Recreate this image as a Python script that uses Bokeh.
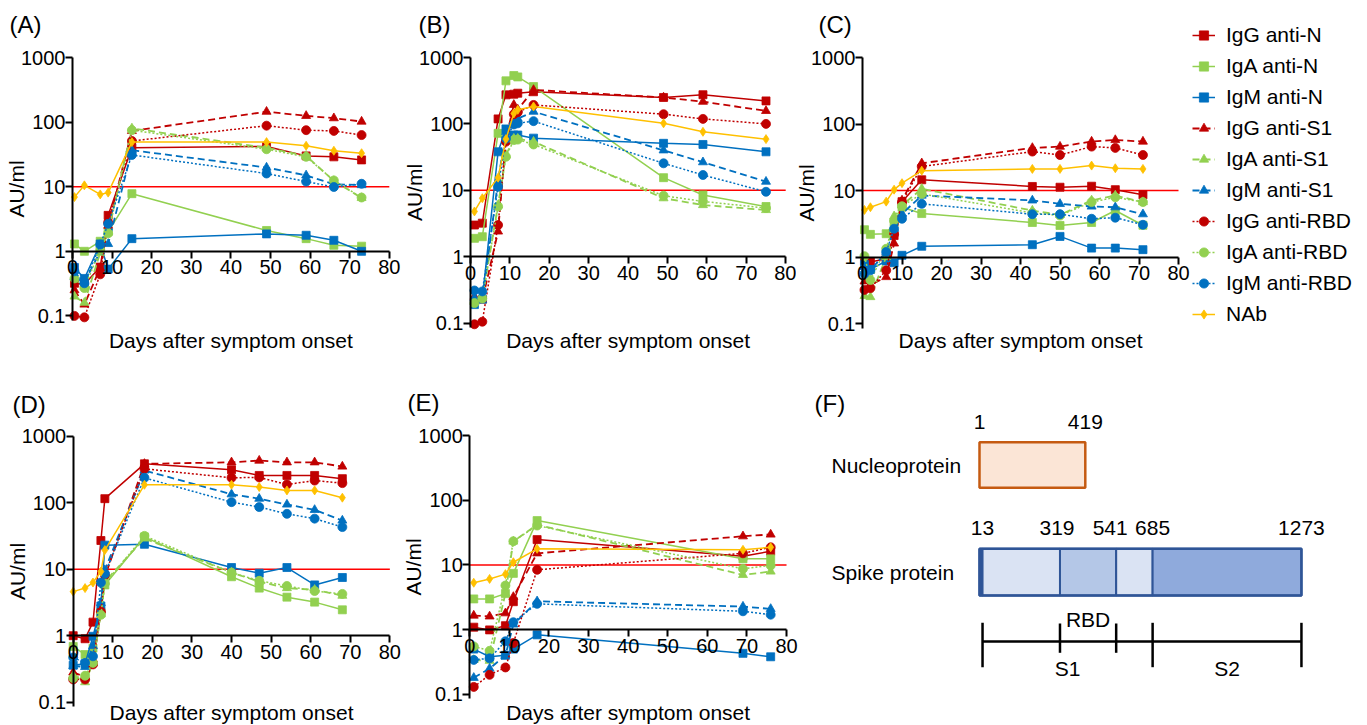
import math
from bokeh.plotting import figure
from bokeh.layouts import row, column
from bokeh.models import (Range1d, FixedTicker, CustomJSTickFormatter, Label,
                          Legend, LegendItem, ColumnDataSource)
from bokeh.core.properties import value
from bokeh.embed import file_html
from bokeh.resources import INLINE

FONT = "Liberation Sans"
RED, GREEN, BLUE, GOLD = "#c00000", "#92d050", "#0070c0", "#ffc000"

# ---------------- data ----------------
SERIES_NAMES = ["IgG anti-N", "IgA anti-N", "IgM anti-N",
                "IgG anti-S1", "IgA anti-S1", "IgM anti-S1",
                "IgG anti-RBD", "IgA anti-RBD", "IgM anti-RBD", "NAb"]
X_TICKS = [0, 10, 20, 30, 40, 50, 60, 70, 80]
Y_TICKS = [0.1, 1, 10, 100, 1000]
THRESHOLD = 10

A_DAYS = [0.5, 3, 7, 9, 15, 49, 59, 66, 73]
A_IGG_N = [0.32, 0.31, 0.57, 3.6, 40, 42, 30, 29, 26]
A_IGA_N = [1.3, 1.0, 1.43, 2.0, 7.8, 2.1, 1.57, 1.24, 1.2]
A_IGM_N = [0.56, 0.38, 1.3, 0.53, 1.57, 1.86, 1.77, 1.48, 1.0]
A_IGG_S1 = [0.25, 0.15, 0.55, 2.5, 73, 145, 125, 115, 102]
A_IGA_S1 = [0.2, 0.16, 0.95, 2.0, 80, 40, 30, 12.3, 6.7]
A_IGM_S1 = [0.4, 0.33, 1.0, 1.3, 36.7, 19.8, 15, 10.9, 10.6]
A_IGG_RBD = [0.1, 0.095, 0.44, 2.8, 51, 88, 75, 73, 63]
A_IGA_RBD = [0.38, 0.27, 1.06, 1.9, 75, 38, 29, 12.5, 6.8]
A_IGM_RBD = [0.49, 0.32, 1.27, 2.66, 31, 16, 12, 9.9, 11.1]
A_NAB = [6.9, 10.5, 7.6, 8.1, 49, 49, 43, 36, 33]

B_DAYS = [1, 3, 7, 9, 11, 12, 16, 49, 59, 75]
B_IGG_N = [3.0, 3.2, 119, 274, 280, 290, 305, 250, 275, 222]
B_IGA_N = [1.89, 2.0, 72, 445, 535, 510, 365, 15.5, 8.5, 5.7]
B_IGM_N = [0.19, 0.23, 38, 84, 68, 68, 61, 51, 49, 38]
B_IGG_S1 = [0.25, 0.22, 2.4, 60, 194, 165, 325, 250, 216, 157]
B_IGA_S1 = [0.21, 0.24, 6, 34, 60, 60, 54, 7.6, 6.0, 5.05]
B_IGM_S1 = [0.24, 0.22, 14, 76, 102, 120, 153, 40, 26.5, 13.5]
B_IGG_RBD = [0.096, 0.105, 3.0, 54, 140, 150, 193, 140, 119, 100]
B_IGA_RBD = [0.2, 0.235, 5.7, 32, 57, 58, 49, 8.3, 6.8, 5.4]
B_IGM_RBD = [0.31, 0.3, 11.3, 60, 98, 102, 110, 25.5, 17, 9.5]
B_NAB = [4.8, 7.6, 15.5, 59, 144, 163, 183, 102, 76, 59]

C_DAYS = [0.5, 2, 6, 8, 10, 15, 43, 50, 58, 64, 71]
C_IGG_N = [0.87, 0.84, 0.94, 2.1, 6.8, 14.5, 11.5, 11.2, 11.6, 10.3, 8.6]
C_IGA_N = [2.57, 2.19, 2.24, 3.3, 5.6, 4.5, 3.3, 2.98, 3.3, 5.0, 3.0]
C_IGM_N = [0.77, 0.65, 0.87, 0.82, 1.06, 1.45, 1.53, 2.04, 1.36, 1.36, 1.29]
C_IGG_S1 = [0.43, 0.38, 0.5, 1.6, 7.1, 25.7, 43.7, 45.7, 54.5, 57.5, 54.5]
C_IGA_S1 = [0.26, 0.25, 1.0, 4.1, 6.0, 10.6, 5.0, 4.3, 7.1, 8.4, 6.7]
C_IGM_S1 = [0.71, 0.63, 1.19, 2.66, 4.47, 8.4, 7.1, 6.3, 5.75, 5.6, 4.4]
C_IGG_RBD = [0.32, 0.34, 0.63, 2.2, 6.7, 22.9, 38.5, 34.2, 45.7, 43.7, 34.2]
C_IGA_RBD = [1.03, 0.45, 1.33, 3.5, 5.8, 8.9, 4.6, 4.2, 6.7, 7.9, 6.7]
C_IGM_RBD = [0.56, 0.63, 1.19, 2.66, 3.76, 6.3, 4.4, 4.4, 3.76, 3.9, 3.05]
C_NAB = [5.1, 5.6, 6.8, 10.3, 12.9, 19.9, 21.1, 21.1, 23.7, 21.6, 21.1]

D_DAYS = [0, 3, 5, 7, 8, 18, 40, 47, 54, 61, 68]
D_IGG_N = [1.0, 0.9, 1.6, 27, 115, 384, 312, 257, 257, 257, 230]
D_IGA_N = [0.69, 0.52, 0.65, 2.3, 5.8, 30.6, 7.7, 5.2, 3.8, 3.2, 2.45]
D_IGM_N = [0.36, 0.38, 0.98, 2.8, 23, 23.7, 10.6, 8.7, 10.6, 5.8, 7.5]
D_IGG_S1 = [0.28, 0.24, 0.44, 2.45, 7.7, 384, 405, 430, 405, 405, 350]
D_IGA_S1 = [0.25, 0.2, 0.39, 2.1, 6.5, 29, 8.9, 6.5, 5.2, 4.9, 4.0]
D_IGM_S1 = [0.35, 0.34, 0.7, 3.1, 9.7, 305, 134, 115, 94, 78, 54]
D_IGG_RBD = [0.22, 0.22, 0.37, 2.3, 8.2, 323, 237, 240, 188, 215, 197]
D_IGA_RBD = [0.23, 0.25, 0.39, 2.06, 6.1, 31.7, 8.9, 6.7, 5.6, 4.7, 4.25]
D_IGM_RBD = [0.47, 0.39, 0.49, 6.3, 8.5, 237, 102, 86, 68, 57.6, 43]
D_NAB = [4.6, 5.2, 6.3, 9.2, 19.4, 186, 186, 172, 153, 153, 119]

E_DAYS = [1, 5, 9, 11, 17, 69, 76]
E_IGG_N = [1.09, 0.99, 1.15, 2.7, 24.6, 13.6, 16.3]
E_IGA_N = [2.98, 2.98, 3.6, 7.4, 48.4, 12.4, 12.4]
E_IGM_N = [0.5, 0.38, 0.4, 0.5, 0.83, 0.43, 0.38]
E_IGG_S1 = [1.65, 1.6, 1.79, 3.2, 15.1, 27.7, 29.5]
E_IGA_S1 = [0.34, 0.33, 3.6, 23, 42, 7.0, 7.9]
E_IGM_S1 = [0.18, 0.25, 0.4, 1.2, 2.74, 2.27, 2.09]
E_IGG_RBD = [0.13, 0.2, 0.26, 0.62, 8.4, 15.1, 18.7]
E_IGA_RBD = [0.55, 0.47, 4.8, 23.2, 40.6, 8.7, 9.8]
E_IGM_RBD = [0.34, 0.36, 0.66, 1.3, 2.5, 1.92, 1.7]
E_NAB = [5.3, 6.07, 7.2, 11, 17.7, 17.1, 18.7]

# Panel F: protein domain boundaries (residues)
NUC_BOUNDS = [1, 419]
SPIKE_BOUNDS = [1, 13, 319, 541, 685, 1273]
NUC_TICK_LABELS = ["1", "419"]
SPIKE_TICK_RES = [13, 319, 541, 685, 1273]
SPIKE_TICK_LABELS = ["13", "319", "541", "685", "1273"]
S1_RANGE = [13, 685]
S2_RANGE = [685, 1273]
RBD_RANGE = [319, 541]

# ---------------- styles ----------------
S_COLORS = [RED, GREEN, BLUE] * 3 + [GOLD]
S_MARKERS = ["square"] * 3 + ["triangle"] * 3 + ["circle"] * 3 + ["diamond"]
S_DASH = ["solid"] * 3 + ["7 4"] * 3 + ["2 2"] * 3 + ["solid"]
S_LW = [1.5] * 3 + [1.8] * 3 + [1.5] * 3 + [1.5]
S_SIZE = [8] * 3 + [9] * 3 + [9] * 3 + [9]

Y_AXIS_LO = 0.085
ROW1_H, ROW2_H = 376, 348


def make_panel(letter, days, series, x0, y0, W, H, axis_x, top_y, dec, unit,
               letter_xy, xlabel_y):
    """Frame covers the whole canvas; geometry given in page pixels."""
    x_start = -(axis_x - x0) / unit
    x_end = (x0 + W - axis_x) / unit
    ltop = math.log10(Y_TICKS[-1]) + (top_y - y0) / dec
    lbot = math.log10(Y_TICKS[-1]) - (y0 + H - top_y) / dec
    p = figure(width=W, height=H, output_backend="svg", toolbar_location=None,
               x_range=Range1d(x_start, x_end),
               y_range=Range1d(10 ** lbot, 10 ** ltop), y_axis_type="log",
               min_border_left=0, min_border_right=0,
               min_border_top=0, min_border_bottom=0, frame_align=False)
    p.outline_line_color = None
    p.xgrid.visible = False
    p.ygrid.visible = False
    p.background_fill_color = "white"
    p.border_fill_color = "white"

    p.segment(x0=[X_TICKS[0]], y0=[THRESHOLD], x1=[X_TICKS[-1]], y1=[THRESHOLD],
              line_color="#ff0000", line_width=1.5)

    rends = []
    for vals, color, marker, dash, lw, sz in zip(series, S_COLORS, S_MARKERS,
                                                 S_DASH, S_LW, S_SIZE):
        src = ColumnDataSource(dict(x=days, y=vals))
        lr = p.line("x", "y", source=src, line_color=color, line_width=lw, line_dash=dash)
        sr = p.scatter("x", "y", source=src, marker=marker, size=sz,
                       fill_color=color, line_color=color, line_width=0.8)
        rends.append((lr, sr))

    xa = p.xaxis[0]
    ya = p.yaxis[0]
    xa.fixed_location = 1
    ya.fixed_location = 0
    xa.bounds = (X_TICKS[0], X_TICKS[-1])
    ya.bounds = (Y_AXIS_LO, Y_TICKS[-1])
    xa.ticker = FixedTicker(ticks=X_TICKS, minor_ticks=[])
    ya.ticker = FixedTicker(ticks=Y_TICKS, minor_ticks=[])
    ya.formatter = CustomJSTickFormatter(code="return String(tick);")
    for ax in (xa, ya):
        ax.axis_line_width = 2
        ax.axis_line_color = "black"
        ax.major_tick_line_width = 2
        ax.major_tick_line_color = "black"
        ax.major_tick_in = 0
        ax.major_tick_out = 7
        ax.minor_tick_line_color = None
        ax.major_label_text_font = FONT
        ax.major_label_text_font_size = "20px"
        ax.major_label_text_color = "black"
    xa.major_label_standoff = 2
    ya.major_label_standoff = 0
    ya.axis_label = "AU/ml"
    ya.axis_label_text_font = FONT
    ya.axis_label_text_font_size = "21px"
    ya.axis_label_text_font_style = "normal"
    ya.axis_label_text_color = "black"
    ya.axis_label_standoff = -10

    p.add_layout(Label(x=letter_xy[0] - x0, y=y0 + H - letter_xy[1],
                       x_units="screen", y_units="screen",
                       text=letter, text_font=FONT, text_font_size="24px",
                       text_baseline="middle", text_align="left", text_color="black"))
    p.add_layout(Label(x=(X_TICKS[0] + X_TICKS[-1]) / 2, y=y0 + H - xlabel_y,
                       x_units="data", y_units="screen",
                       text="Days after symptom onset", text_font=FONT,
                       text_font_size="21px", text_baseline="middle",
                       text_align="center", text_color="black"))
    return p, rends


pA, _ = make_panel("(A)", A_DAYS, [A_IGG_N, A_IGA_N, A_IGM_N, A_IGG_S1, A_IGA_S1, A_IGM_S1,
                                   A_IGG_RBD, A_IGA_RBD, A_IGM_RBD, A_NAB],
                   0, 0, 402, ROW1_H, 72, 57, 64.6, 3.96, (9, 24), 340)
pB, _ = make_panel("(B)", B_DAYS, [B_IGG_N, B_IGA_N, B_IGM_N, B_IGG_S1, B_IGA_S1, B_IGM_S1,
                                   B_IGG_RBD, B_IGA_RBD, B_IGM_RBD, B_NAB],
                   402, 0, 394, ROW1_H, 470, 57, 66.4, 3.94, (418, 24), 340)
pC, rendsC = make_panel("(C)", C_DAYS, [C_IGG_N, C_IGA_N, C_IGM_N, C_IGG_S1, C_IGA_S1,
                                        C_IGM_S1, C_IGG_RBD, C_IGA_RBD, C_IGM_RBD, C_NAB],
                        796, 0, 571, ROW1_H, 862, 57, 66.5, 3.95, (818, 24), 340)
pD, _ = make_panel("(D)", D_DAYS, [D_IGG_N, D_IGA_N, D_IGM_N, D_IGG_S1, D_IGA_S1, D_IGM_S1,
                                   D_IGG_RBD, D_IGA_RBD, D_IGM_RBD, D_NAB],
                   0, ROW1_H, 402, ROW2_H, 72.7, 435.7, 66.5, 3.958, (12, 404), 712)
pE, _ = make_panel("(E)", E_DAYS, [E_IGG_N, E_IGA_N, E_IGM_N, E_IGG_S1, E_IGA_S1, E_IGM_S1,
                                   E_IGG_RBD, E_IGA_RBD, E_IGM_RBD, E_NAB],
                   402, ROW1_H, 398, ROW2_H, 469.3, 435, 64.7, 3.959, (407, 402), 712)

# ---------------- legend (inside panel C canvas, right of the axes) ----------------
items = [LegendItem(label=name, renderers=[lr, sr])
         for name, (lr, sr) in zip(SERIES_NAMES, rendsC)]
LEG_PAD, LEG_ITEM_H, LEG_SPACING = 6, 26, 5
leg_h = 2 * LEG_PAD + len(items) * LEG_ITEM_H + (len(items) - 1) * LEG_SPACING
legend = Legend(items=items, location=(1196 - 796 - LEG_PAD + 2, ROW1_H - 10 - leg_h),
                margin=0, padding=LEG_PAD, spacing=LEG_SPACING,
                glyph_width=23, glyph_height=LEG_ITEM_H, label_height=LEG_ITEM_H,
                label_standoff=11, label_text_font=FONT, label_text_font_size="21px",
                label_text_color="black", border_line_color=None,
                background_fill_alpha=0)
pC.add_layout(legend)

# ---------------- panel F ----------------
F_W, F_H = 567, ROW2_H
PX_PER_RES = 0.2531
F_RES1_PX = 179
NUC_Y = (65.7, 111.3)
SPIKE_Y = (172.3, 219.0)
BAR_Y = 265
LONG_TICK_Y = (246.3, 290.7)
SHORT_TICK_Y = (247.0, 276.3)
pF = figure(width=F_W, height=F_H, output_backend="svg", toolbar_location=None,
            x_range=Range1d(1 - F_RES1_PX / PX_PER_RES, 1 + (F_W - F_RES1_PX) / PX_PER_RES),
            y_range=Range1d(F_H, 0), x_axis_type=None, y_axis_type=None,
            min_border_left=0, min_border_right=0, min_border_top=0, min_border_bottom=0,
            frame_align=False)
pF.outline_line_color = None

pF.quad(left=[NUC_BOUNDS[0]], right=[NUC_BOUNDS[1]], top=[NUC_Y[0]], bottom=[NUC_Y[1]],
        fill_color="#fbe5d6", line_color="#c55a11", line_width=2.5)
SPIKE_FILLS = ["#2f5597", "#dae3f3", "#b4c7e7", "#dae3f3", "#8faadc"]
pF.quad(left=SPIKE_BOUNDS[:-1], right=SPIKE_BOUNDS[1:],
        top=[SPIKE_Y[0]] * 5, bottom=[SPIKE_Y[1]] * 5,
        fill_color=SPIKE_FILLS, line_color="#2f5597", line_width=2)
pF.quad(left=[SPIKE_BOUNDS[0]], right=[SPIKE_BOUNDS[-1]], top=[SPIKE_Y[0]], bottom=[SPIKE_Y[1]],
        fill_color=None, line_color="#2f5597", line_width=2.5)

pF.text(x=NUC_BOUNDS, y=[45, 45], text=NUC_TICK_LABELS, text_font=value(FONT),
        text_font_size="21px", text_align="center", text_baseline="middle", text_color="black")
pF.text(x=SPIKE_TICK_RES, y=[151.7] * 5, text=SPIKE_TICK_LABELS, text_font=value(FONT),
        text_font_size="21px", text_align="center", text_baseline="middle",
        x_offset=[0, -3, -6, 0, 0], text_color="black")

long_ticks = [S1_RANGE[0], S2_RANGE[0], S2_RANGE[1]]
short_ticks = RBD_RANGE
pF.segment(x0=[S1_RANGE[0]], x1=[S2_RANGE[1]], y0=[BAR_Y], y1=[BAR_Y],
           line_color="black", line_width=2.5)
pF.segment(x0=long_ticks, x1=long_ticks, y0=[LONG_TICK_Y[0]] * 3, y1=[LONG_TICK_Y[1]] * 3,
           line_color="black", line_width=2.5)
pF.segment(x0=short_ticks, x1=short_ticks, y0=[SHORT_TICK_Y[0]] * 2, y1=[SHORT_TICK_Y[1]] * 2,
           line_color="black", line_width=2.5)
pF.text(x=[sum(RBD_RANGE) / 2], y=[243], text=["RBD"], text_font=value(FONT),
        text_font_size="21px", text_align="center", text_baseline="middle", text_color="black")
pF.text(x=[sum(S1_RANGE) / 2, sum(S2_RANGE) / 2], y=[292.3, 292.3], text=["S1", "S2"],
        text_font=value(FONT), text_font_size="21px", text_align="center",
        text_baseline="middle", text_color="black")

pF.add_layout(Label(x=31, y=sum(NUC_Y) / 2, x_units="screen", y_units="data",
                    text="Nucleoprotein", text_font=FONT, text_font_size="21px",
                    text_baseline="middle", text_align="left", text_color="black"))
pF.add_layout(Label(x=31, y=sum(SPIKE_Y) / 2, x_units="screen", y_units="data",
                    text="Spike protein", text_font=FONT, text_font_size="21px",
                    text_baseline="middle", text_align="left", text_color="black"))
pF.add_layout(Label(x=14, y=27, x_units="screen", y_units="data",
                    text="(F)", text_font=FONT, text_font_size="24px",
                    text_baseline="middle", text_align="left", text_color="black"))

layout = column(row(pA, pB, pC), row(pD, pE, pF))
open("out.html", "w").write(file_html(layout, INLINE))
